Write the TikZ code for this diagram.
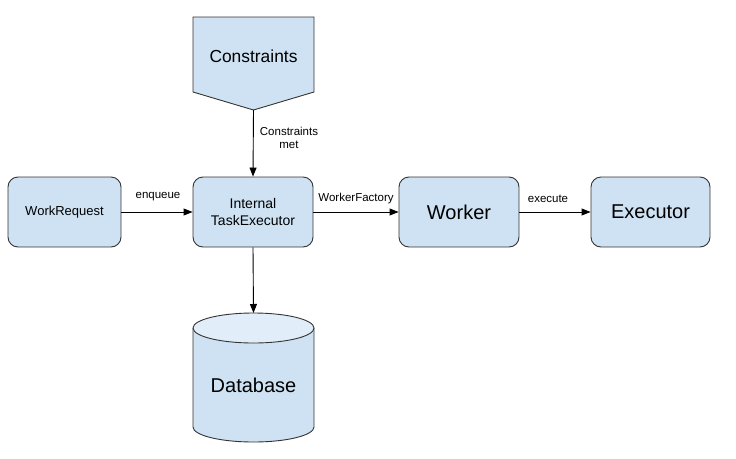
\documentclass[tikz,border=0pt]{standalone}
\usepackage{fontspec}
\setmainfont{Liberation Sans}
\usetikzlibrary{arrows.meta}
\definecolor{boxfill}{HTML}{CFE2F3}
\definecolor{boxtop}{HTML}{E1EDF8}
\definecolor{boxline}{HTML}{333333}
\tikzset{
  procbox/.style={draw=boxline, fill=boxfill, line width=0.9pt, rounded corners=10pt,
    minimum height=70pt, inner sep=0pt, align=center},
  conn/.style={-{Triangle[length=9pt,width=7pt]}, line width=0.9pt, black},
  lbl/.style={font=\fontsize{11.5}{13}\selectfont, inner sep=0pt, align=center},
  shapeline/.style={draw=boxline, line width=0.9pt}
}
\begin{document}
\begin{tikzpicture}[x=1pt,y=-1pt]
\useasboundingbox (0,0) rectangle (736,458);
% boxes
\node[procbox, minimum width=113pt, font=\fontsize{13}{15}\selectfont] (wr) at (64.5,212) {WorkRequest};
\node[procbox, minimum width=120pt, font=\fontsize{14}{17}\selectfont] (te) at (253,212) {Internal\\TaskExecutor};
\node[procbox, minimum width=120pt, font=\fontsize{20}{24}\selectfont] (wk) at (459,212) {Worker};
\node[procbox, minimum width=119pt, font=\fontsize{20}{24}\selectfont] (ex) at (650.5,212) {Executor};
% constraints pentagon
\path[shapeline, fill=boxfill] (193,17) -- (314,17) -- (314,92) -- (253.5,110) -- (193,92) -- cycle;
\node[font=\fontsize{17.4}{20}\selectfont, inner sep=0pt] (cs) at (253.5,56) {Constraints};
\coordinate (cstip) at (253.5,110);
% database cylinder
\path[shapeline, fill=boxfill] (193,328) -- (193,427) arc[start angle=180, end angle=360, x radius=60.5pt, y radius=15pt] -- (314,328);
\path[shapeline, fill=boxtop] (253.5,328) ellipse[x radius=60.5pt, y radius=15pt];
\node[font=\fontsize{20}{24}\selectfont, inner sep=0pt] (db) at (253.5,385) {Database};
\coordinate (dbtop) at (253.5,313);
% connectors
\draw[conn] (cstip) -- (te.north);
\draw[conn] (te.south) -- (dbtop);
\draw[conn] (wr.east) -- (te.west);
\draw[conn] (te.east) -- (wk.west);
\draw[conn] (wk.east) -- (ex.west);
% labels
\node[lbl] (l1) at (289,138) {Constraints\\met};
\node[lbl] (l2) at (158,197) {enqueue};
\node[lbl] (l3) at (356,199) {WorkerFactory};
\node[lbl] (l4) at (548,199) {execute};
\end{tikzpicture}
\end{document}
